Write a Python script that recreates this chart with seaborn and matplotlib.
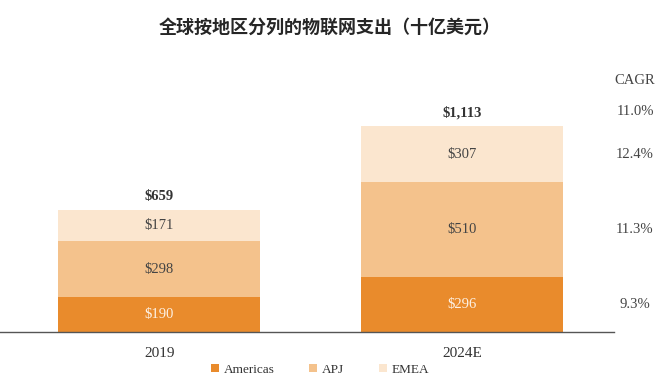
import matplotlib
matplotlib.use('Agg')
import matplotlib.pyplot as plt
from matplotlib.patches import Patch
import numpy as np
import pandas as pd
import seaborn as sns

years = ['2019', '2024E']
americas = [190, 296]
apj = [298, 510]
emea = [171, 307]
totals = [659, 1113]
cagr_labels = ['11.0%', '12.4%', '11.3%', '9.3%']  # total, EMEA, APJ, Americas
regions = ['Americas', 'APJ', 'EMEA']

COLORS = {'Americas': '#E98B2C', 'APJ': '#F4C28C', 'EMEA': '#FBE6CF'}
TXT = '#444444'

sns.set_style('white')
plt.rcParams['font.family'] = ['Liberation Serif', 'DejaVu Serif']

df = pd.DataFrame({'year': years, 'Americas': americas, 'APJ': apj, 'EMEA': emea})
df['c1'] = df['Americas']
df['c2'] = df['Americas'] + df['APJ']
df['c3'] = df['c2'] + df['EMEA']

fig = plt.figure(figsize=(6.6, 3.87), dpi=100)
ax = fig.add_axes([0.0, 0.142, 0.93, 0.70])

# stacked via overlapping cumulative bars
for col, reg in [('c3', 'EMEA'), ('c2', 'APJ'), ('c1', 'Americas')]:
    sns.barplot(data=df, x='year', y=col, color=COLORS[reg], width=0.667,
                saturation=1, ax=ax, linewidth=0)

ax.set_xlim(-0.525, 1.50)
ax.set_ylim(0, 1460)
ax.set_xlabel(''); ax.set_ylabel('')
ax.set_yticks([])
sns.despine(ax=ax, left=True, top=True, right=True)
ax.spines['bottom'].set_color('#555555')
ax.spines['bottom'].set_linewidth(1.0)
ax.tick_params(axis='x', length=0, labelsize=11, colors='#333333', pad=11)

for i in range(len(years)):
    a, p, e = americas[i], apj[i], emea[i]
    ax.text(i, a / 2, f'${a}', ha='center', va='center', fontsize=10.5, color='#FDF1E4')
    ax.text(i, a + p / 2, f'${p}', ha='center', va='center', fontsize=10.5, color=TXT)
    ax.text(i, a + p + e / 2, f'${e}', ha='center', va='center', fontsize=10.5, color=TXT)
    ax.text(i, totals[i] + 35, f'${totals[i]:,}', ha='center', va='bottom',
            fontsize=10.5, fontweight='bold', color='#333333')

# CAGR column
i = 1
ys = [totals[i] + 35 + 38, americas[i] + apj[i] + emea[i] / 2,
      americas[i] + apj[i] / 2, americas[i] / 2]
xc = 1.57
ax.text(xc, totals[i] + 240, 'CAGR', ha='center', va='center', fontsize=10.5,
        color=TXT, clip_on=False)
for lab, y in zip(cagr_labels, ys):
    ax.text(xc, y, lab, ha='center', va='center', fontsize=10.5, color=TXT, clip_on=False)

handles = [Patch(facecolor=COLORS[r], edgecolor='none') for r in regions]
fig.legend(handles, regions, loc='center', bbox_to_anchor=(0.485, 0.045), ncol=3,
           frameon=False, fontsize=9.5, handlelength=0.6, handleheight=0.6,
           handletextpad=0.4, columnspacing=2.6, labelcolor='#333333')

fig.text(0.5, 0.93, '全球按地区分列的物联网支出（十亿美元）', ha='center', va='center',
         fontsize=13, fontweight='bold', family=['Noto Sans CJK SC', 'DejaVu Sans'])

plt.savefig('out.png', dpi=100)
plt.close()
